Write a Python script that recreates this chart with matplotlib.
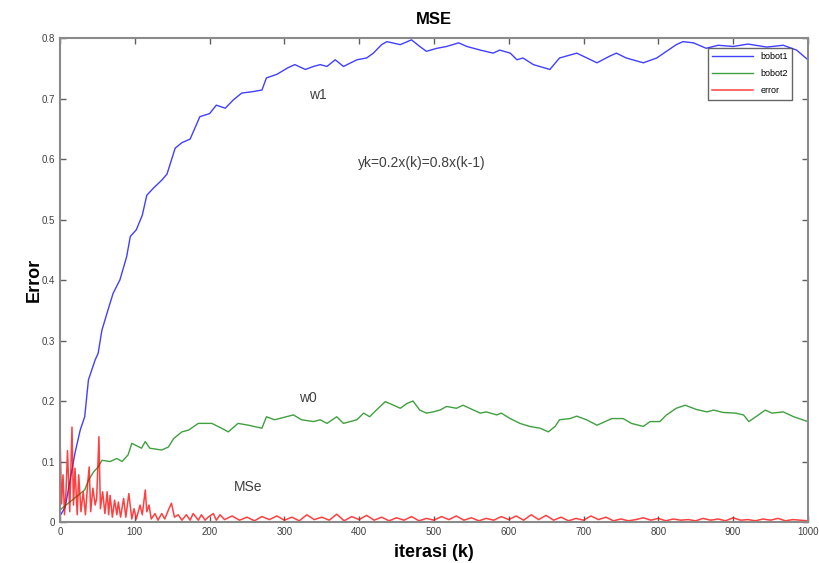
import matplotlib

matplotlib.use("Agg")
import matplotlib.pyplot as plt

plt.rcParams["font.family"] = ["Liberation Sans", "DejaVu Sans"]

# bobot1 (w1)
w1_k = [0, 7, 20, 27, 33, 38, 47, 51, 56, 64, 71, 80, 89, 94, 102, 110, 116, 125, 136, 143,
        154, 163, 174, 187, 200, 209, 221, 232, 243, 256, 270, 276, 290, 305, 314, 328, 339, 348,
        357, 368, 379, 397, 410, 419, 430, 437, 455, 470, 481, 490, 504, 517, 533, 544, 562, 579,
        588, 602, 611, 619, 633, 655, 668, 691, 718, 735, 744, 757, 780, 798, 811, 824, 833, 847,
        864, 880, 900, 920, 945, 967, 985, 1000]
w1 = [0.01, 0.025, 0.114, 0.152, 0.174, 0.235, 0.268, 0.279, 0.317, 0.350, 0.378, 0.400, 0.438,
      0.472, 0.483, 0.507, 0.540, 0.552, 0.565, 0.575, 0.618, 0.627, 0.633, 0.670, 0.675, 0.689,
      0.684, 0.698, 0.709, 0.711, 0.714, 0.734, 0.740, 0.751, 0.756, 0.748, 0.753, 0.756, 0.753,
      0.764, 0.753, 0.764, 0.767, 0.775, 0.789, 0.794, 0.789, 0.797, 0.786, 0.778, 0.783, 0.786,
      0.792, 0.786, 0.780, 0.775, 0.780, 0.775, 0.764, 0.767, 0.756, 0.748, 0.767, 0.775, 0.759,
      0.770, 0.775, 0.767, 0.759, 0.767, 0.778, 0.789, 0.794, 0.792, 0.783, 0.788, 0.786, 0.790,
      0.785, 0.788, 0.780, 0.764]

# bobot2 (w0)
w0_k = [0, 11, 20, 33, 38, 45, 51, 56, 67, 76, 83, 91, 96, 109, 114, 120, 136, 145, 152, 163,
        172, 185, 203, 216, 225, 238, 252, 270, 276, 287, 312, 323, 339, 348, 357, 370, 379, 397,
        406, 414, 423, 435, 446, 455, 464, 472, 481, 490, 499, 508, 517, 530, 539, 553, 562, 570,
        584, 590, 602, 615, 628, 642, 653, 662, 668, 682, 691, 704, 718, 738, 753, 764, 780, 789,
        802, 811, 824, 836, 851, 865, 874, 887, 903, 914, 921, 934, 943, 952, 967, 981, 1000]
w0 = [0.02, 0.031, 0.04, 0.053, 0.069, 0.083, 0.091, 0.102, 0.100, 0.105, 0.100, 0.111, 0.130,
      0.122, 0.133, 0.122, 0.119, 0.124, 0.138, 0.149, 0.152, 0.163, 0.163, 0.155, 0.149, 0.163,
      0.160, 0.155, 0.174, 0.169, 0.177, 0.169, 0.166, 0.169, 0.163, 0.174, 0.163, 0.169, 0.180,
      0.174, 0.185, 0.199, 0.193, 0.188, 0.196, 0.200, 0.185, 0.180, 0.182, 0.185, 0.191, 0.188,
      0.193, 0.185, 0.180, 0.182, 0.177, 0.180, 0.171, 0.163, 0.158, 0.155, 0.149, 0.158, 0.169,
      0.171, 0.175, 0.169, 0.160, 0.171, 0.171, 0.163, 0.158, 0.166, 0.166, 0.177, 0.188, 0.193,
      0.186, 0.182, 0.185, 0.181, 0.180, 0.177, 0.166, 0.177, 0.185, 0.180, 0.182, 0.174, 0.166]

# error (MSe), early spikes
err_k_early = [0, 2, 4, 6, 8, 10, 13, 16, 18, 20, 23, 25, 28, 31, 34, 37, 39, 41, 44, 47, 49,
               52, 54, 57, 60, 63, 65, 67, 70, 73, 76, 78, 81, 85, 88, 92, 96, 99, 102, 107,
               110, 114, 116, 119, 122, 127, 131, 136, 140, 145, 149, 153, 158, 163, 169, 174,
               178, 185, 189, 194, 198, 205, 209, 214]
err_early = [0.141, 0.03, 0.078, 0.012, 0.05, 0.118, 0.017, 0.157, 0.028, 0.089, 0.012, 0.078,
             0.017, 0.05, 0.012, 0.064, 0.091, 0.017, 0.056, 0.028, 0.039, 0.141, 0.022, 0.05,
             0.014, 0.05, 0.012, 0.044, 0.008, 0.036, 0.012, 0.033, 0.008, 0.039, 0.008, 0.047,
             0.005, 0.022, 0.005, 0.028, 0.012, 0.053, 0.017, 0.028, 0.005, 0.014, 0.003, 0.014,
             0.005, 0.020, 0.031, 0.008, 0.012, 0.003, 0.012, 0.003, 0.014, 0.003, 0.012, 0.003,
             0.008, 0.014, 0.003, 0.012]
# error, small noise afterwards (every 10 iterations, 220..1000)
err_k_late = list(range(220, 1001, 10))
err_late = [0.004, 0.010, 0.003, 0.008, 0.002, 0.009, 0.004, 0.010, 0.003, 0.008,
            0.002, 0.012, 0.004, 0.008, 0.003, 0.013, 0.002, 0.009, 0.004, 0.011,
            0.003, 0.008, 0.002, 0.007, 0.003, 0.009, 0.002, 0.006, 0.003, 0.009,
            0.004, 0.010, 0.003, 0.007, 0.002, 0.006, 0.003, 0.009, 0.004, 0.010,
            0.003, 0.012, 0.004, 0.011, 0.003, 0.008, 0.002, 0.006, 0.003, 0.010,
            0.004, 0.008, 0.002, 0.005, 0.002, 0.004, 0.007, 0.003, 0.006, 0.002,
            0.005, 0.003, 0.004, 0.002, 0.006, 0.003, 0.005, 0.002, 0.007, 0.003,
            0.004, 0.002, 0.005, 0.003, 0.006, 0.002, 0.004, 0.003, 0.002]
err_k = err_k_early + err_k_late
err = err_early + err_late

x_ticks = list(range(0, 1001, 100))
y_ticks = [0, 0.1, 0.2, 0.3, 0.4, 0.5, 0.6, 0.7, 0.8]
y_tick_labels = ["0", "0.1", "0.2", "0.3", "0.4", "0.5", "0.6", "0.7", "0.8"]

fig = plt.figure(figsize=(8.2, 5.63), dpi=100)
fig.patch.set_facecolor("white")
ax = fig.add_axes([0.0732, 0.0728, 0.912, 0.8597])

ax.plot(w1_k, w1, color="#0000ff", linewidth=1.0, alpha=0.75, label="bobot1")
ax.plot(w0_k, w0, color="#008000", linewidth=1.0, alpha=0.75, label="bobot2")
ax.plot(err_k, err, color="#ff0000", linewidth=1.1, alpha=0.75, label="error")

ax.set_xlim(0, 1000)
ax.set_ylim(0, 0.8)
ax.set_xticks(x_ticks)
ax.set_yticks(y_ticks)
ax.set_yticklabels(y_tick_labels)
ax.tick_params(direction="in", top=True, right=True, length=4, width=1,
               labelsize=7, colors="#606060", labelcolor="#404040")
for side in ax.spines.values():
    side.set_color("#8a8a8a")
    side.set_linewidth(1.5)

ax.set_title("MSE", fontsize=12, fontweight="bold", pad=10)
ax.set_xlabel("iterasi (k)", fontsize=13, fontweight="bold", labelpad=5)
ax.set_ylabel("Error", fontsize=13, fontweight="bold", labelpad=-1)

ax.text(345, 0.706, "w1", fontsize=10, color="#404040", ha="center", va="center")
ax.text(484, 0.593, "yk=0.2x(k)=0.8x(k-1)", fontsize=10, color="#404040", ha="center", va="center")
ax.text(331, 0.205, "w0", fontsize=10, color="#404040", ha="center", va="center")
ax.text(251, 0.058, "MSe", fontsize=10, color="#404040", ha="center", va="center")

leg = ax.legend(loc="upper right", fontsize=6.5, frameon=True, fancybox=False,
                borderpad=0.5, handlelength=4.5, labelspacing=0.9, borderaxespad=0,
                bbox_to_anchor=(0.979, 0.98))
leg.get_frame().set_edgecolor("#404040")
leg.get_frame().set_linewidth(1.0)

fig.savefig("out.png", dpi=100)
plt.close(fig)
